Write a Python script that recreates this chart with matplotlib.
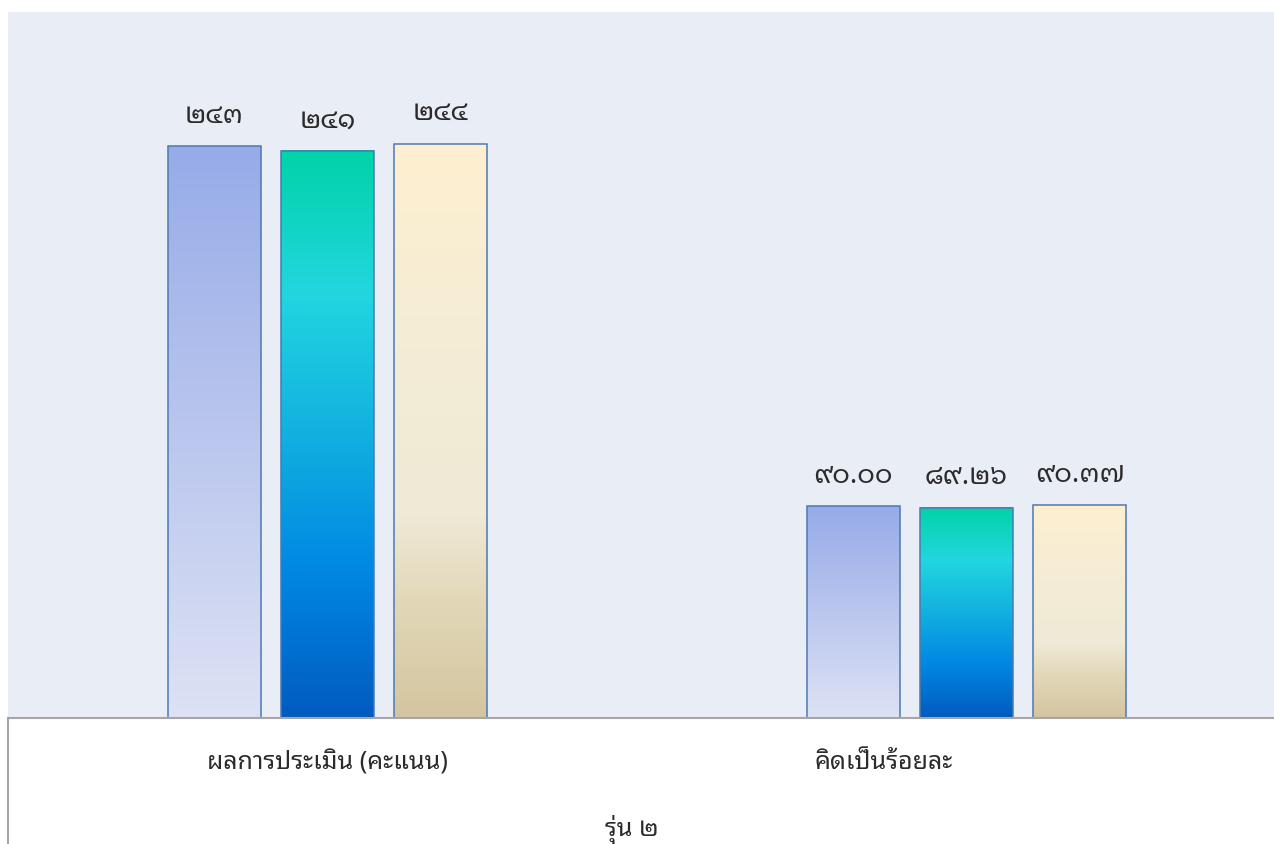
import numpy as np
import matplotlib
matplotlib.use("Agg")
import matplotlib.pyplot as plt
from matplotlib.colors import LinearSegmentedColormap
from matplotlib.lines import Line2D

plt.rcParams['font.family'] = ['Noto Sans Thai Looped', 'Noto Sans Thai', 'DejaVu Sans']
plt.rcParams['font.weight'] = 'light'

# data
categories = ['ผลการประเมิน (คะแนน)', 'คิดเป็นร้อยละ']
score = [243, 241, 244]
percent = [90.00, 89.26, 90.37]
axis_title = 'รุ่น ๒'

# gradients for the three series, listed from bottom of bar to top
grad_stops = [
    [(0.0, '#DDE2F4'), (0.5, '#BAC6EE'), (1.0, '#96ABE8')],
    [(0.0, '#005BBF'), (0.26, '#0088E3'), (0.5, '#12B0E0'),
     (0.75, '#22D6DF'), (1.0, '#00D3A8')],
    [(0.0, '#D3C59F'), (0.2, '#E2D8B8'), (0.35, '#EFE9D6'),
     (0.7, '#F5EDD5'), (1.0, '#FFEFD0')],
]
cmaps = [LinearSegmentedColormap.from_list('g%d' % i, s) for i, s in enumerate(grad_stops)]

THAI = str.maketrans('0123456789', '๐๑๒๓๔๕๖๗๘๙')

def thai(s):
    return s.translate(THAI)

W, H = 1274, 844
fig = plt.figure(figsize=(W / 100, H / 100), dpi=100)
ax = fig.add_axes([8 / W, (H - 718) / H, 1278 / W, 706 / H])
ax.set_facecolor('#E9EDF6')
for sp in ax.spines.values():
    sp.set_visible(False)
ax.set_xticks([])
ax.set_yticks([])

step = 0.1773
width = 0.1455
grad = np.linspace(0, 1, 256).reshape(-1, 1)

groups = [(score, '{:.0f}'), (percent, '{:.2f}')]
for gi, (vals, fmt) in enumerate(groups):
    for si, v in enumerate(vals):
        xc = gi + (si - 1) * step
        x0, x1 = xc - width / 2, xc + width / 2
        ax.imshow(grad, cmap=cmaps[si], extent=[x0, x1, 0, v], origin='lower',
                  aspect='auto', interpolation='bilinear', zorder=2)
        ax.bar(xc, v, width=width, fill=False, edgecolor='#4C7AB2',
               linewidth=1.1, zorder=3)
        ax.annotate(thai(fmt.format(v)), (xc, v), xytext=(0, 22),
                    textcoords='offset points', ha='center', va='center',
                    fontsize=19.5, color='#2B2B2B')

ax.set_xlim(-0.5, 1.5)
ax.set_ylim(0, 300)

# category labels below the plot area
label_x = [0.0, 0.87]
for x, c in zip(label_x, categories):
    ax.text(x, -0.063, c, transform=ax.get_xaxis_transform(), ha='center',
            va='center', fontsize=18, color='#2B2B2B')

fig.text(632 / W, 1 - 829 / H, axis_title, ha='center', va='center',
         fontsize=18, color='#2B2B2B')

# border lines of the axis area
fig.add_artist(Line2D([8 / W, 1], [(H - 718) / H] * 2, color='#A6A6A6', lw=1.5))
fig.add_artist(Line2D([8 / W] * 2, [0, (H - 718) / H], color='#A6A6A6', lw=1.5))

fig.savefig('out.png', dpi=100)
